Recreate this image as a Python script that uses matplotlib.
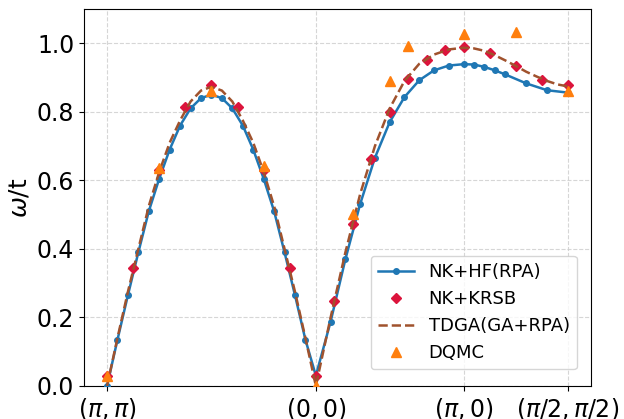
import numpy as np
import matplotlib
matplotlib.use("Agg")
import matplotlib.pyplot as plt

# k-path node positions (path length): (pi,pi) -> (0,0) -> (pi,0) -> (pi/2,pi/2)
s1 = np.sqrt(2) * np.pi
s2 = np.pi
s3 = np.pi / np.sqrt(2)
nodes = [0.0, s1, s1 + s2, s1 + s2 + s3]
tick_labels = [r"$(\pi,\pi)$", r"$(0,0)$", r"$(\pi,0)$", r"$(\pi/2,\pi/2)$"]

# NK+HF(RPA): fractional positions along each segment and values
hf_seg1_frac = [i / 20 for i in range(21)]
hf_seg1 = [0.00, 0.135, 0.265, 0.39, 0.51, 0.605, 0.69, 0.76, 0.81, 0.84, 0.85,
           0.84, 0.81, 0.76, 0.69, 0.605, 0.51, 0.39, 0.265, 0.135, 0.03]
hf_seg2_frac = [i / 10 for i in range(1, 11)]
hf_seg2 = [0.188, 0.37, 0.531, 0.666, 0.77, 0.843, 0.892, 0.921, 0.935, 0.939]
hf_seg3_frac = [0.1, 0.2, 0.3, 0.4, 0.6, 0.8, 1.0]
hf_seg3 = [0.938, 0.931, 0.921, 0.909, 0.883, 0.863, 0.856]

# NK+KRSB
krsb_seg1_frac = [i / 8 for i in range(9)]
krsb_seg1 = [0.03, 0.344, 0.63, 0.814, 0.877, 0.814, 0.63, 0.344, 0.03]
krsb_seg2_frac = [i / 8 for i in range(1, 9)]
krsb_seg2 = [0.247, 0.473, 0.661, 0.799, 0.895, 0.951, 0.98, 0.989]
krsb_seg3_frac = [0.25, 0.5, 0.75, 1.0]
krsb_seg3 = [0.973, 0.934, 0.893, 0.877]

# TDGA(GA+RPA)
tdga_seg1_frac = [i / 20 for i in range(21)]
tdga_seg1 = [0.0, 0.14, 0.275, 0.40, 0.525, 0.625, 0.71, 0.775, 0.83, 0.862, 0.873,
             0.862, 0.83, 0.775, 0.71, 0.625, 0.525, 0.40, 0.275, 0.14, 0.0]
tdga_seg2_frac = [i / 10 for i in range(1, 11)]
tdga_seg2 = [0.20, 0.39, 0.56, 0.70, 0.81, 0.89, 0.94, 0.967, 0.982, 0.987]
tdga_seg3_frac = [i / 10 for i in range(1, 11)]
tdga_seg3 = [0.985, 0.978, 0.965, 0.95, 0.934, 0.917, 0.903, 0.89, 0.88, 0.874]

# DQMC
dqmc_x_seg = [0, 0, 0, 0, 1, 1, 1, 1, 1, 2, 2]
dqmc_frac = [0.0, 0.25, 0.5, 0.75, 0.0, 0.25, 0.5, 0.625, 1.0, 0.5, 1.0]
dqmc = [0.03, 0.635, 0.861, 0.641, 0.0, 0.503, 0.89, 0.992, 1.028, 1.033, 0.861]

seg_len = [s1, s2, s3]


def path(seg, frac):
    return [nodes[seg] + f * seg_len[seg] for f in frac]


hf_x = path(0, hf_seg1_frac) + path(1, hf_seg2_frac) + path(2, hf_seg3_frac)
hf_y = hf_seg1 + hf_seg2 + hf_seg3
krsb_x = path(0, krsb_seg1_frac) + path(1, krsb_seg2_frac) + path(2, krsb_seg3_frac)
krsb_y = krsb_seg1 + krsb_seg2 + krsb_seg3
tdga_x = path(0, tdga_seg1_frac) + path(1, tdga_seg2_frac) + path(2, tdga_seg3_frac)
tdga_y = tdga_seg1 + tdga_seg2 + tdga_seg3
dqmc_xs = [nodes[s] + f * seg_len[s] for s, f in zip(dqmc_x_seg, dqmc_frac)]

fig = plt.figure(figsize=(6.24, 4.19), dpi=100)
ax = fig.add_axes([0.1346, 0.0788, 0.8125, 0.8997])

ax.plot(hf_x, hf_y, "-o", color="#1f77b4", ms=4, lw=1.8, label="NK+HF(RPA)", zorder=3)
ax.plot(krsb_x, krsb_y, "D", color="#dc143c", ms=5.5, ls="none", label="NK+KRSB", zorder=4)
ax.plot(tdga_x, tdga_y, "--", color="#a0522d", lw=1.8, label="TDGA(GA+RPA)", zorder=5)
ax.plot(dqmc_xs, dqmc, "^", color="#ff7f0e", ms=7.5, ls="none", label="DQMC", zorder=6)

ax.set_ylim(0, 1.1)
ax.set_xticks(nodes)
ax.set_xticklabels(tick_labels)
ax.set_yticks([0.0, 0.2, 0.4, 0.6, 0.8, 1.0])
ax.tick_params(labelsize=17)
ax.set_ylabel(r"$\omega$/t", fontsize=18)
ax.grid(True, ls="--", color="#cccccc", alpha=0.8)
ax.legend(loc="lower right", fontsize=13, bbox_to_anchor=(0.99, 0.02))

fig.savefig("out.png", dpi=100)
